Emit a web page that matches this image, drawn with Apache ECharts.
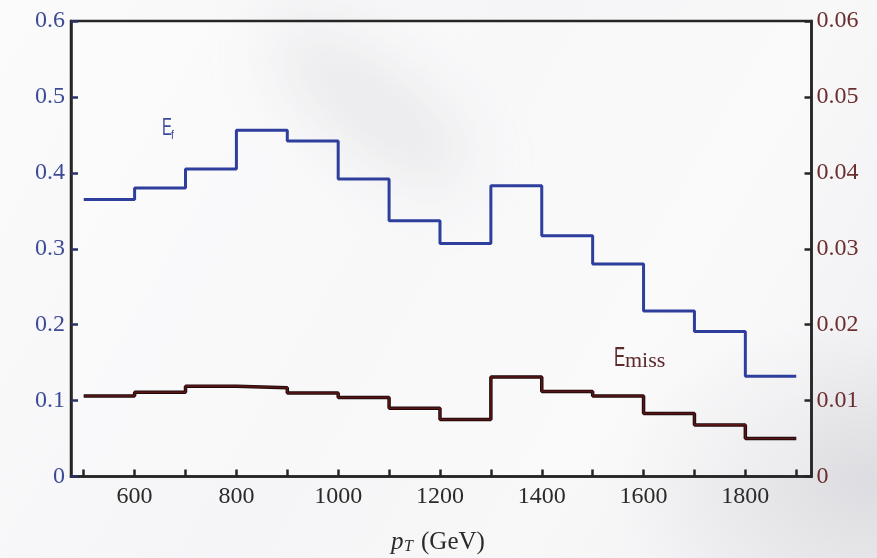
<!DOCTYPE html>
<html>
<head>
<meta charset="utf-8">
<script src="https://cdn.jsdelivr.net/npm/echarts@6/dist/echarts.min.js"></script>
<style>
  html, body { margin: 0; padding: 0; }
  body {
    position: relative;
    width: 877px; height: 558px; overflow: hidden;
    background:
      radial-gradient(ellipse 260px 160px at 870px 480px, rgba(205,205,210,0.55), rgba(205,205,210,0) 100%),
      linear-gradient(120deg, #fbfbfc 0%, #f5f5f7 45%, #f8f8f9 70%, #efeff2 100%);
  }
  .haze {
    position: absolute; left: 250px; top: 60px; width: 240px; height: 90px;
    background: rgba(190,190,196,0.35); border-radius: 50%;
    transform: rotate(38deg); filter: blur(30px);
  }
  #chart { position: absolute; left: 0; top: 0; width: 877px; height: 558px; }
</style>
</head>
<body>
<div class="haze"></div>
<div id="chart"></div>
<script>
// Bin edges in pT (GeV); each value covers [edge[i], edge[i+1])
const binEdges = [500, 600, 700, 800, 900, 1000, 1100, 1200, 1300, 1400, 1500, 1600, 1700, 1800, 1900];
// E_f efficiency per bin (left axis)
const efValues = [0.365, 0.380, 0.405, 0.456, 0.442, 0.392, 0.337, 0.307, 0.383, 0.317, 0.280, 0.218, 0.191, 0.132];
// E_miss per bin (right axis)
const emissValues = [0.0106, 0.0111, 0.0119, 0.0117, 0.0110, 0.0104, 0.0090, 0.0075, 0.0131, 0.0112, 0.0106, 0.0083, 0.0068, 0.0050];
// Axis tick positions and labels
const xTickValues = [500, 600, 700, 800, 900, 1000, 1100, 1200, 1300, 1400, 1500, 1600, 1700, 1800, 1900];
const xLabelValues = [600, 800, 1000, 1200, 1400, 1600, 1800];

// Histogram outline: one point per left edge, plus the last right edge
function stepData(values) {
  const d = values.map((v, i) => [binEdges[i], v]);
  d.push([binEdges[binEdges.length - 1], values[values.length - 1]]);
  return d;
}

const serif = '"Liberation Serif", "DejaVu Serif", serif';
const sans = '"Liberation Sans", Arial, sans-serif';
const frameColor = '#262626';

const chart = echarts.init(document.getElementById('chart'), null, { renderer: 'canvas' });

chart.setOption({
  backgroundColor: 'transparent',
  animation: false,
  grid: {
    left: 71, right: 65.5, top: 21, bottom: 81.5,
    show: true, borderColor: frameColor, borderWidth: 2.5,
    backgroundColor: 'rgba(255,255,255,0.3)'
  },
  xAxis: {
    type: 'value', min: 475, max: 1930,
    axisLine: { show: true, onZero: false, lineStyle: { color: frameColor, width: 2.5 } },
    axisTick: { show: true, inside: true, length: 7, customValues: xTickValues,
                lineStyle: { color: frameColor, width: 2.5 } },
    axisLabel: { customValues: xLabelValues, color: '#2a2a2a', fontFamily: serif, fontSize: 24, margin: 8,
                 formatter: v => String(v) },
    splitLine: { show: false }
  },
  yAxis: [
    {
      type: 'value', min: 0, max: 0.6, interval: 0.1, position: 'left',
      axisLine: { show: true, lineStyle: { color: frameColor, width: 2.5 } },
      axisTick: { show: true, inside: true, length: 7, lineStyle: { color: '#2a3366', width: 2.5 } },
      axisLabel: { color: '#3d4b97', fontFamily: serif, fontSize: 24, margin: 6,
                   formatter: v => (v === 0 ? '0' : v.toFixed(1)) },
      splitLine: { show: false }
    },
    {
      type: 'value', min: 0, max: 0.06, interval: 0.01, position: 'right',
      axisLine: { show: true, lineStyle: { color: frameColor, width: 2.5 } },
      axisTick: { show: true, inside: true, length: 7, lineStyle: { color: frameColor, width: 2.5 } },
      axisLabel: { color: '#6b2e2e', fontFamily: serif, fontSize: 24, margin: 5,
                   formatter: v => (v === 0 ? '0' : v.toFixed(2)) },
      splitLine: { show: false }
    }
  ],
  series: [
    {
      name: 'E_f', type: 'line', step: 'end', yAxisIndex: 0,
      data: stepData(efValues), symbol: 'none',
      lineStyle: { color: '#2e3e9c', width: 3 }
    },
    {
      name: 'E_miss outline', type: 'line', step: 'end', yAxisIndex: 1,
      data: stepData(emissValues), symbol: 'none', silent: true,
      lineStyle: { color: '#1e0a0a', width: 3.5 }
    },
    {
      name: 'E_miss', type: 'line', step: 'end', yAxisIndex: 1,
      data: stepData(emissValues), symbol: 'none',
      lineStyle: { color: '#5a1616', width: 1.6 }
    }
  ],
  graphic: [
    // E_f label
    { type: 'text', x: 162, y: 116, scaleX: 0.62,
      style: { text: 'E', font: '24px ' + sans, fill: '#3a4a9c' } },
    { type: 'text', x: 171, y: 129, scaleX: 0.8,
      style: { text: 'f', font: '13px ' + sans, fill: '#3a4a9c' } },
    // E_miss label
    { type: 'text', x: 614, y: 344, scaleX: 0.6,
      style: { text: 'E', font: '28px ' + sans, fill: '#5e2b2b' } },
    { type: 'text', x: 625, y: 350,
      style: { text: 'miss', font: '22px ' + serif, fill: '#5e2b2b' } },
    // x-axis title: p_T (GeV)
    { type: 'text', x: 391, y: 530,
      style: { text: 'p', font: 'italic 25px ' + serif, fill: '#2a2a2a' } },
    { type: 'text', x: 404, y: 539,
      style: { text: 'T', font: 'italic 16px ' + serif, fill: '#2a2a2a' } },
    { type: 'text', x: 421, y: 530,
      style: { text: '(GeV)', font: '25px ' + serif, fill: '#2a2a2a' } }
  ]
});
</script>
</body>
</html>
